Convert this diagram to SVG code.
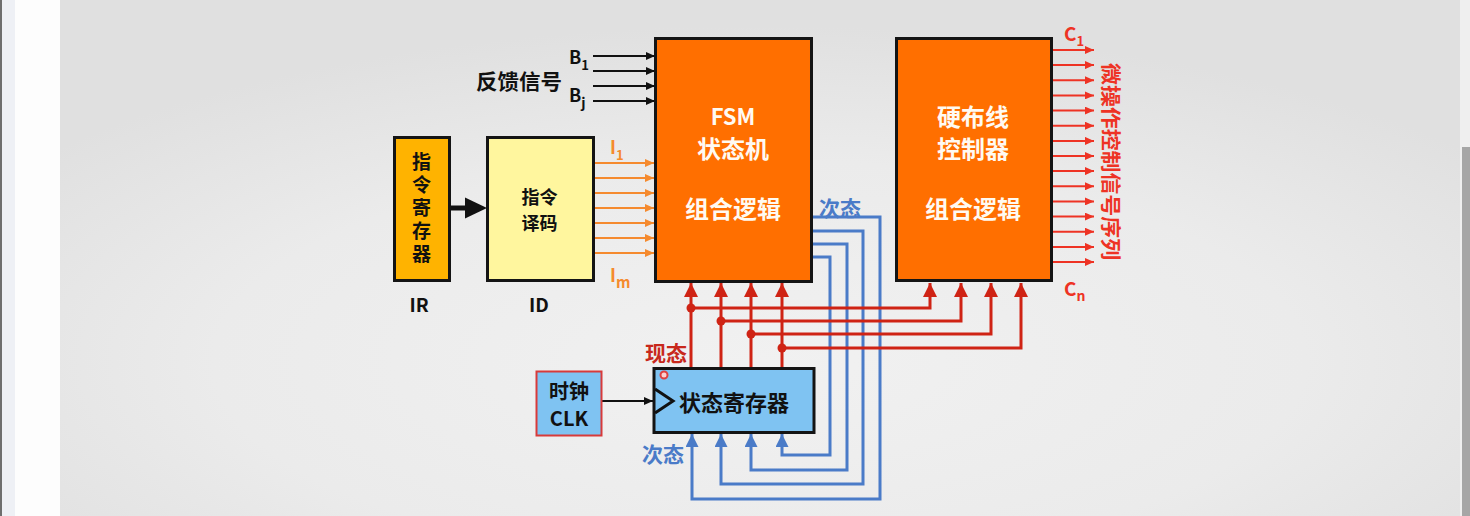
<svg xmlns="http://www.w3.org/2000/svg" width="1470" height="516" viewBox="0 0 1470 516">
<defs>
<radialGradient id="bgGrad" cx="0.5" cy="0.7" r="0.65">
<stop offset="0" stop-color="#f1f1f1"/>
<stop offset="0.6" stop-color="#ebebeb"/>
<stop offset="1" stop-color="#e0e0e0"/>
</radialGradient>
<marker id="mBlack" markerUnits="userSpaceOnUse" markerWidth="9" markerHeight="8" refX="9" refY="4" orient="auto"><path d="M0,0 L9,4 L0,8 z" fill="#111"/></marker>
<marker id="mOrange" markerUnits="userSpaceOnUse" markerWidth="9" markerHeight="8" refX="9" refY="4" orient="auto"><path d="M0,0 L9,4 L0,8 z" fill="#f58a2e"/></marker>
<marker id="mC" markerUnits="userSpaceOnUse" markerWidth="9" markerHeight="8" refX="9" refY="4" orient="auto"><path d="M0,0 L9,4 L0,8 z" fill="#ee3324"/></marker>
<marker id="mRed" markerUnits="userSpaceOnUse" markerWidth="14" markerHeight="14" refX="14" refY="7" orient="auto"><path d="M0,0 L14,7 L0,14 z" fill="#cf2314"/></marker>
<marker id="mBlue" markerUnits="userSpaceOnUse" markerWidth="13" markerHeight="13" refX="13" refY="6.5" orient="auto"><path d="M0,0 L13,6.5 L0,13 z" fill="#4a7bc8"/></marker>
</defs>
<style>
text{font-family:"Noto Sans CJK SC","Noto Sans",sans-serif;font-weight:bold}
.box{stroke:#141414;stroke-width:3}
.wt{fill:#fffaf2;font-size:24px}
.bt{fill:#111}
.ln{fill:none}
.blk{stroke:#111;stroke-width:2}
.org{stroke:#f58a2e;stroke-width:2}
.cc{stroke:#ee3324;stroke-width:2}
.red{stroke:#cf2314;stroke-width:3}
.blu{stroke:#4a7bc8;stroke-width:3}
</style>
<g id="background">
<rect x="0" y="0" width="1470" height="516" fill="#fdfdfd"/>
<rect x="0" y="0" width="2" height="516" fill="#6e6e6e"/>
<rect x="2" y="0" width="13" height="516" fill="#eef0f5"/>
<rect x="60" y="0" width="1400" height="516" fill="url(#bgGrad)"/>
<rect x="1460" y="0" width="10" height="516" fill="#efefef"/>
<rect x="1462" y="147" width="8" height="369" fill="#a6a6a6"/>
</g>
<g id="connectors">
<line class="ln" x1="449" y1="208" x2="467" y2="208" stroke="#111" stroke-width="5"/>
<polygon points="465,197.5 487,208 465,218.5" fill="#111"/>
<g class="ln blk" marker-end="url(#mBlack)">
<line x1="593" y1="56" x2="655" y2="56"/>
<line x1="593" y1="71" x2="655" y2="71"/>
<line x1="593" y1="86" x2="655" y2="86"/>
<line x1="593" y1="101" x2="655" y2="101"/>
<line x1="602" y1="401" x2="653" y2="401"/>
</g>
<g class="ln org" marker-end="url(#mOrange)">
<line x1="594" y1="163" x2="654" y2="163"/>
<line x1="594" y1="178" x2="654" y2="178"/>
<line x1="594" y1="193" x2="654" y2="193"/>
<line x1="594" y1="208" x2="654" y2="208"/>
<line x1="594" y1="223" x2="654" y2="223"/>
<line x1="594" y1="238" x2="654" y2="238"/>
<line x1="594" y1="253" x2="654" y2="253"/>
</g>
<g class="ln cc" marker-end="url(#mC)">
<line x1="1053" y1="50" x2="1094" y2="50"/>
<line x1="1053" y1="65.1" x2="1094" y2="65.1"/>
<line x1="1053" y1="80.3" x2="1094" y2="80.3"/>
<line x1="1053" y1="95.4" x2="1094" y2="95.4"/>
<line x1="1053" y1="110.6" x2="1094" y2="110.6"/>
<line x1="1053" y1="125.7" x2="1094" y2="125.7"/>
<line x1="1053" y1="140.9" x2="1094" y2="140.9"/>
<line x1="1053" y1="156" x2="1094" y2="156"/>
<line x1="1053" y1="171.1" x2="1094" y2="171.1"/>
<line x1="1053" y1="186.3" x2="1094" y2="186.3"/>
<line x1="1053" y1="201.4" x2="1094" y2="201.4"/>
<line x1="1053" y1="216.6" x2="1094" y2="216.6"/>
<line x1="1053" y1="231.7" x2="1094" y2="231.7"/>
<line x1="1053" y1="246.9" x2="1094" y2="246.9"/>
<line x1="1053" y1="262" x2="1094" y2="262"/>
</g>
<g class="ln blu" marker-end="url(#mBlue)">
<polyline points="812,217 880,217 880,499 692,499 692,434"/>
<polyline points="812,231 863,231 863,484 721,484 721,434"/>
<polyline points="812,244 847,244 847,470 751,470 751,434"/>
<polyline points="812,257 830,257 830,455 782,455 782,434"/>
</g>
<g class="ln red" marker-end="url(#mRed)">
<polyline points="691,367 691,283"/>
<polyline points="721,367 721,283"/>
<polyline points="751,367 751,283"/>
<polyline points="782,367 782,283"/>
<polyline points="691,308 930,308 930,283"/>
<polyline points="721,321 961,321 961,283"/>
<polyline points="751,334 991,334 991,283"/>
<polyline points="782,348 1021,348 1021,283"/>
</g>
<g fill="#cf2314">
<circle cx="691" cy="308" r="4.5"/>
<circle cx="721" cy="321" r="4.5"/>
<circle cx="751" cy="334" r="4.5"/>
<circle cx="782" cy="348" r="4.5"/>
</g>
</g>
<g id="node-ir">
<rect class="box" x="394.5" y="137.5" width="55" height="143" fill="#ffb300"/>
<text class="bt" x="421.5" y="152" font-size="19" writing-mode="vertical-rl" letter-spacing="4">指令寄存器</text>
<text class="bt" x="419" y="303" font-size="19" text-anchor="middle" dominant-baseline="central">IR</text>
</g>
<g id="node-id">
<rect class="box" x="487.5" y="137.5" width="106" height="143" fill="#fff69e"/>
<text class="bt" font-size="18" text-anchor="middle" dominant-baseline="central"><tspan x="539.5" y="195.5">指令</tspan><tspan x="539.5" y="221.5">译码</tspan></text>
<text class="bt" x="539" y="303" font-size="19" text-anchor="middle" dominant-baseline="central">ID</text>
</g>
<g id="node-fsm">
<rect class="box" x="655.5" y="38.5" width="156" height="243" fill="#ff6f00"/>
<text class="wt" x="733" y="115" text-anchor="middle" dominant-baseline="central" style="font-size:22px">FSM</text>
<text class="wt" x="733" y="147" text-anchor="middle" dominant-baseline="central">状态机</text>
<text class="wt" x="733" y="207" text-anchor="middle" dominant-baseline="central">组合逻辑</text>
</g>
<g id="node-hw">
<rect class="box" x="896.5" y="38.5" width="155" height="242" fill="#ff6f00"/>
<text class="wt" x="973" y="115" text-anchor="middle" dominant-baseline="central">硬布线</text>
<text class="wt" x="973" y="147" text-anchor="middle" dominant-baseline="central">控制器</text>
<text class="wt" x="973" y="207" text-anchor="middle" dominant-baseline="central">组合逻辑</text>
</g>
<g id="node-sr">
<rect class="box" x="654" y="368.5" width="160" height="64" fill="#7fc3f2"/>
<polyline points="655,389 673,401 655,413" fill="none" stroke="#111" stroke-width="3"/>
<text class="bt" x="734" y="401" font-size="22" text-anchor="middle" dominant-baseline="central">状态寄存器</text>
<circle cx="664" cy="375" r="3.5" fill="#fbd0d0" stroke="#e04040" stroke-width="2"/>
</g>
<g id="node-clk">
<rect x="536.5" y="371.5" width="65" height="64" fill="#7fc3f2" stroke="#d83a3a" stroke-width="2"/>
<text class="bt" font-size="20" text-anchor="middle" dominant-baseline="central"><tspan x="569" y="390">时钟</tspan><tspan x="569" y="417">CLK</tspan></text>
</g>
<g id="labels">
<text x="476" y="80" font-size="21" class="bt" dominant-baseline="central" textLength="86" lengthAdjust="spacingAndGlyphs">反馈信号</text>
<text x="569" y="63.5" font-size="18" class="bt">B<tspan font-size="13" dy="6">1</tspan></text>
<text x="569" y="101.5" font-size="18" class="bt">B<tspan font-size="14" dy="6">j</tspan></text>
<text x="610" y="153.5" font-size="18" fill="#f58a2e">I<tspan font-size="13" dy="6">1</tspan></text>
<text x="610" y="282" font-size="18" fill="#f58a2e">I<tspan font-size="15" dy="6">m</tspan></text>
<text x="1064" y="41" font-size="19" fill="#ee3324">C<tspan font-size="13" dy="5">1</tspan></text>
<text x="1064" y="296" font-size="19" fill="#ee3324">C<tspan font-size="14" dy="5">n</tspan></text>
<text transform="translate(1111.5,161.5) rotate(90)" font-size="20" fill="#ee3324" text-anchor="middle" dominant-baseline="central" textLength="197" lengthAdjust="spacingAndGlyphs">微操作控制信号序列</text>
<text x="840" y="207" font-size="21" fill="#4a7bc8" text-anchor="middle" dominant-baseline="central">次态</text>
<text x="666" y="352" font-size="21" fill="#c8281c" text-anchor="middle" dominant-baseline="central">现态</text>
<text x="663" y="453" font-size="21" fill="#4a7bc8" text-anchor="middle" dominant-baseline="central">次态</text>
</g>
</svg>
